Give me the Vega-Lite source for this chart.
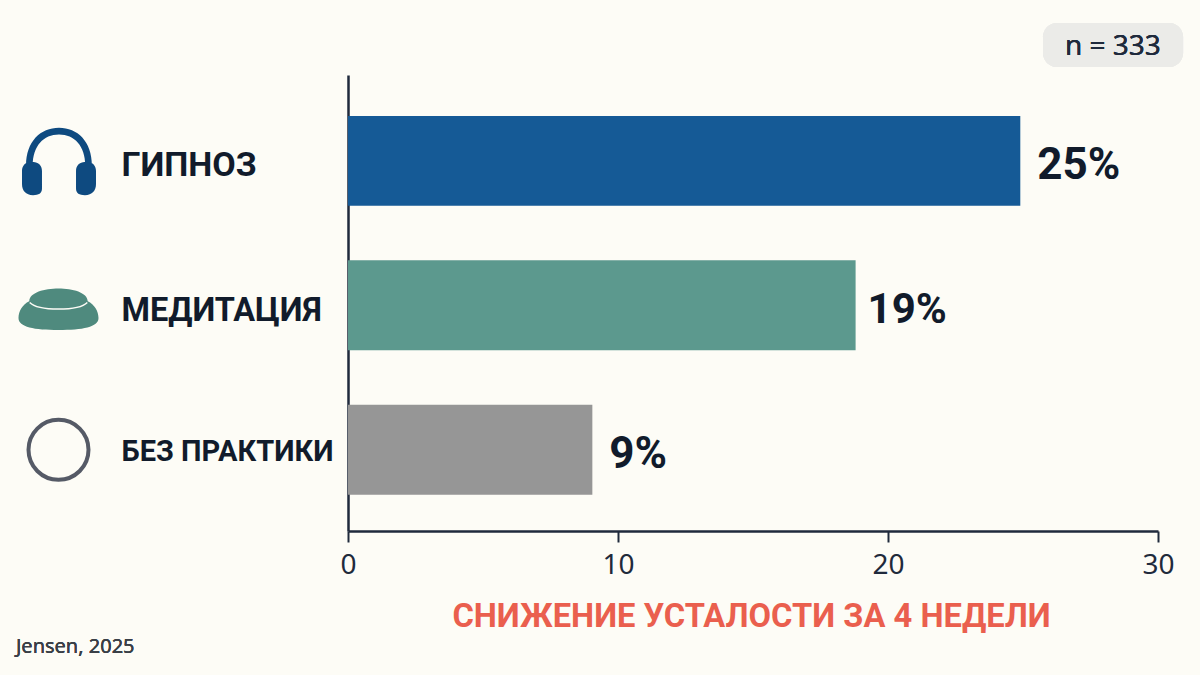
{
"$schema":"https://vega.github.io/schema/vega-lite/v6.json",
"width":810,"height":456,
"autosize":{"type":"none"},
"padding":{"left":348,"top":75,"right":42,"bottom":144},
"background":"#fdfcf6",
"view":{"stroke":null},
"data":{"values":[
{"group":"ГИПНОЗ","value":24.9,"label":"25%"},
{"group":"МЕДИТАЦИЯ","value":18.8,"label":"19%"},
{"group":"БЕЗ ПРАКТИКИ","value":9.05,"label":"9%"}
]},
"layer":[
{"layer":[
{"mark":{"type":"bar","cornerRadius":0},
"encoding":{
"y":{"field":"group","type":"nominal","sort":null,"title":null,
"scale":{"domain":["ГИПНОЗ","МЕДИТАЦИЯ","БЕЗ ПРАКТИКИ"],"paddingInner":0.377,"paddingOuter":0.267,"align":0.53},
"axis":{"domain":true,"domainColor":"#1f2a3c","domainWidth":2.5,"ticks":false,"grid":false,"labelAlign":"left","labelPadding":227,"labelBaseline":"middle","labelOffset":{"expr":"datum.value=='ГИПНОЗ'?5:(datum.value=='МЕДИТАЦИЯ'?6:2)"},"labelFont":"Roboto","labelFontWeight":"bold","labelColor":"#111b2b","labelFontSize":{"expr":"datum.value=='БЕЗ ПРАКТИКИ'?29:(datum.value=='ГИПНОЗ'?34:32.5)"},"labelLimit":300}},
"x":{"field":"value","type":"quantitative","title":"СНИЖЕНИЕ УСТАЛОСТИ ЗА 4 НЕДЕЛИ",
"scale":{"domain":[0,30],"nice":false},
"axis":{"values":[0,10,20,30],"format":"d","grid":false,"domainColor":"#1f2a3c","domainWidth":2.5,"tickColor":"#1f2a3c","tickWidth":2,"tickSize":11,"labelFont":"Noto Sans","labelFontSize":28,"labelColor":"#1f2a3c","labelPadding":9,"labelFlush":false,"titleFont":"Roboto","titleFontWeight":"bold","titleFontSize":32.7,"titleColor":"#ea5f4e","titlePadding":21,"titleX":403}},
"color":{"field":"group","type":"nominal","legend":null,"scale":{"domain":["ГИПНОЗ","МЕДИТАЦИЯ","БЕЗ ПРАКТИКИ"],"range":["#155a96","#5c998e","#969696"]}}
}},
{"mark":{"type":"text","align":"left","baseline":"middle","dx":{"expr":"datum.group=='МЕДИТАЦИЯ'?12:(datum.group=='ГИПНОЗ'?17:17)"},"dy":5,"font":"Roboto","fontWeight":"bold","fontSize":{"expr":"datum.group=='МЕДИТАЦИЯ'?42:44"},"color":"#111b2b"},
"encoding":{"y":{"field":"group","type":"nominal","sort":null},"x":{"field":"value","type":"quantitative"},"text":{"field":"label"}}},
{"transform":[{"filter":"datum.group=='ГИПНОЗ'"}],
"mark":{"type":"point","filled":true,"fill":"#0e4a80","opacity":1,"stroke":null,"size":5476,"xOffset":-289,"yOffset":1,
"shape":"M-0.89 0.1 C-0.89 -0.55 -0.5 -0.92 0 -0.92 C0.5 -0.92 0.89 -0.55 0.89 0.1 L0.71 0.1 C0.71 -0.43 0.42 -0.74 0 -0.74 C-0.42 -0.74 -0.71 -0.43 -0.71 0.1 Z M-0.75 0 C-0.55 0 -0.46 0.1 -0.46 0.25 L-0.46 0.72 C-0.46 0.85 -0.55 0.9 -0.7 0.9 C-0.9 0.9 -1 0.78 -1 0.6 L-1 0.25 C-1 0.1 -0.9 0 -0.75 0 Z M0.75 0 C0.9 0 1 0.1 1 0.25 L1 0.6 C1 0.78 0.9 0.9 0.7 0.9 C0.55 0.9 0.46 0.85 0.46 0.72 L0.46 0.25 C0.46 0.1 0.55 0 0.75 0 Z"},
"encoding":{"y":{"field":"group","type":"nominal","sort":null},"x":{"datum":0}}},
{"transform":[{"filter":"datum.group=='МЕДИТАЦИЯ'"}],
"mark":{"type":"point","filled":true,"fill":"#4f8a7e","opacity":1,"stroke":null,"size":6400,"xOffset":-289.5,"yOffset":4,
"shape":"M-0.73 -0.2 C-0.73 -0.42 -0.35 -0.52 0 -0.52 C0.35 -0.52 0.73 -0.42 0.73 -0.2 C0.9 -0.12 1 0.05 1 0.22 C1 0.45 0.6 0.52 0 0.52 C-0.6 0.52 -1 0.45 -1 0.22 C-1 0.05 -0.9 -0.12 -0.73 -0.2 Z"},
"encoding":{"y":{"field":"group","type":"nominal","sort":null},"x":{"datum":0}}},
{"transform":[{"filter":"datum.group=='МЕДИТАЦИЯ'"}],
"mark":{"type":"point","filled":false,"stroke":"#fdfcf6","strokeWidth":1.5,"opacity":1,"size":6400,"xOffset":-289.5,"yOffset":4,
"shape":"M-0.72 -0.17 C-0.5 0.05 0.5 0.05 0.72 -0.17"},
"encoding":{"y":{"field":"group","type":"nominal","sort":null},"x":{"datum":0}}},
{"transform":[{"filter":"datum.group=='БЕЗ ПРАКТИКИ'"}],
"mark":{"type":"point","shape":"circle","filled":false,"stroke":"#555a66","strokeWidth":4,"opacity":1,"size":3600,"xOffset":-289.5},
"encoding":{"y":{"field":"group","type":"nominal","sort":null},"x":{"datum":0}}}
]},
{"layer":[
{"mark":{"type":"rect","fill":"#ebebe8","cornerRadius":14},
"encoding":{"x":{"datum":25.74},"x2":{"datum":30.93},
"y":{"datum":508,"type":"quantitative","scale":{"domain":[0,456],"nice":false,"zero":false},"axis":null},"y2":{"datum":464}}},
{"mark":{"type":"text","font":"Noto Sans","fontSize":28,"color":"#1f2a3c","align":"center","baseline":"middle"},
"encoding":{"x":{"datum":28.33},"y":{"datum":484,"type":"quantitative","axis":null},"text":{"value":"n = 333"}}},
{"mark":{"type":"text","font":"Noto Sans","fontSize":20,"color":"#3a3f47","align":"left","baseline":"middle"},
"encoding":{"x":{"datum":-12.3},"y":{"datum":-115.5,"type":"quantitative","axis":null},"text":{"value":"Jensen, 2025"}}}
]}
],
"resolve":{"scale":{"y":"independent"}}
}
